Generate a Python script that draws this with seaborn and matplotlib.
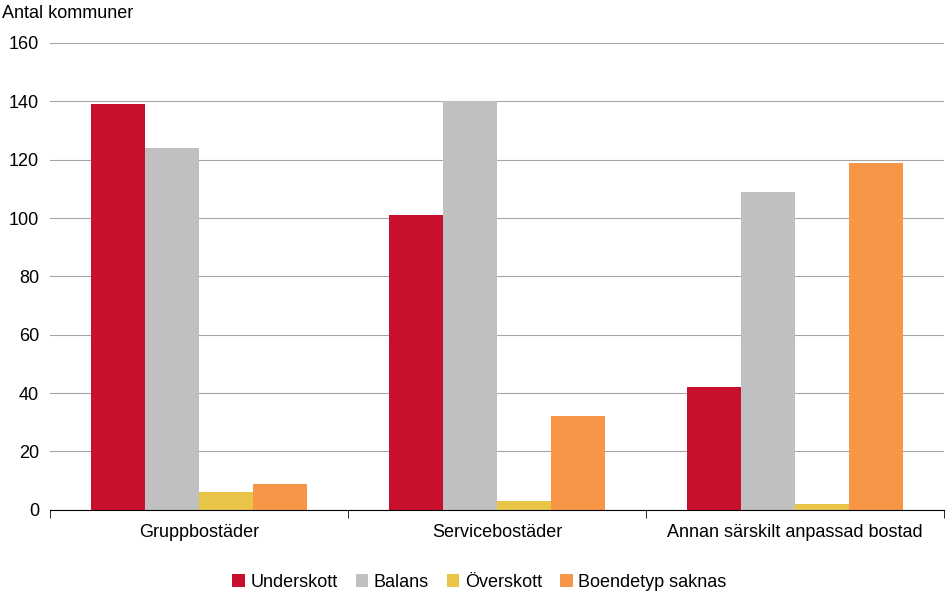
import pandas as pd
import numpy as np
import matplotlib.pyplot as plt
import seaborn as sns

plt.rcParams["font.family"] = "Liberation Sans"

categories = ["Gruppbostäder", "Servicebostäder", "Annan särskilt anpassad bostad"]
series = ["Underskott", "Balans", "Överskott", "Boendetyp saknas"]
underskott = [139, 101, 42]
balans = [124, 140, 109]
overskott = [6, 3, 2]
saknas = [9, 32, 119]
colors = ["#C8102E", "#C0C0C0", "#E8C547", "#F79646"]

rows = []
for name, vals in zip(series, [underskott, balans, overskott, saknas]):
    for c, v in zip(categories, vals):
        rows.append({"cat": c, "serie": name, "val": v})
df = pd.DataFrame(rows)

fig = plt.figure(figsize=(9.46, 5.97), dpi=100)
ax = fig.add_axes([0.053, 0.146, 0.945, 0.782])
sns.barplot(data=df, x="cat", y="val", hue="serie", palette=colors,
            width=0.725, saturation=1, ax=ax, legend=True)

ax.set_ylim(0, 160)
ax.set_xlim(-0.5, 2.5)
ax.set_yticks(range(0, 161, 20))
ax.yaxis.grid(True, color="#A6A6A6", linewidth=0.8)
ax.set_axisbelow(True)
for s in ["top", "right", "left"]:
    ax.spines[s].set_visible(False)
ax.spines["bottom"].set_color("black")
ax.tick_params(axis="y", length=0, labelsize=13, pad=8)
ax.tick_params(axis="x", length=0, labelsize=13, pad=10)
ax.set_xticks([-0.5, 0.5, 1.5, 2.5], minor=True)
ax.tick_params(axis="x", which="minor", length=6, color="black")
ax.set_xlabel("")
ax.set_ylabel("")
fig.text(0.002, 0.978, "Antal kommuner", fontsize=13, va="center", ha="left")

ax.legend(loc="center", bbox_to_anchor=(0.48, -0.155), ncol=4, frameon=False,
          fontsize=13, handlelength=0.7, handleheight=0.7, handletextpad=0.3,
          columnspacing=1.0, borderpad=0)

fig.savefig("out.png", dpi=100)
